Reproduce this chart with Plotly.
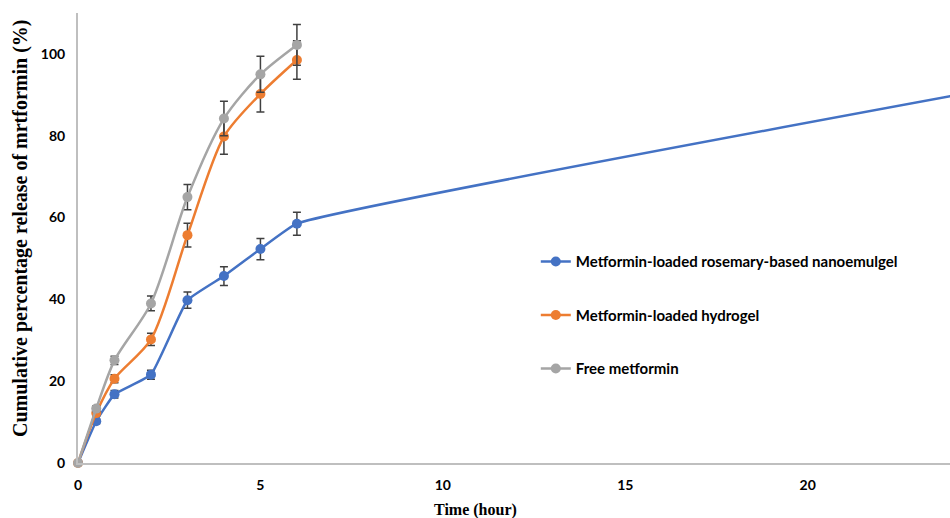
import plotly.graph_objects as go

time_blue = [0, 0.5, 1, 2, 3, 4, 5, 6, 24]
nanoemulgel = [0, 10.2, 16.8, 21.6, 39.8, 45.7, 52.3, 58.5, 89.8]
nanoemulgel_err = [0, 0.6, 0.9, 1.1, 2.0, 2.3, 2.6, 2.8, 0]

time_other = [0, 0.5, 1, 2, 3, 4, 5, 6]
hydrogel = [0, 12.2, 20.6, 30.2, 55.7, 79.8, 90.2, 98.5]
hydrogel_err = [0, 0.7, 1.0, 1.5, 2.9, 4.3, 4.4, 4.7]
free = [0, 13.3, 25.1, 39.0, 65.0, 84.2, 95.0, 102.2]
free_err = [0, 0.7, 1.0, 1.8, 3.1, 4.2, 4.4, 5.0]

names = ["Metformin-loaded rosemary-based nanoemulgel",
         "Metformin-loaded hydrogel",
         "Free metformin"]
colors = ["#4472C4", "#ED7D31", "#A5A5A5"]
smooth = [0.35, 0.8, 0.8]

fig = go.Figure()
series = [(time_blue, nanoemulgel, nanoemulgel_err),
          (time_other, hydrogel, hydrogel_err),
          (time_other, free, free_err)]
for i, (x, y, e) in enumerate(series):
    fig.add_trace(go.Scatter(
        x=x, y=y, name=names[i], mode="lines+markers",
        line=dict(color=colors[i], width=2.5, shape="spline", smoothing=smooth[i]),
        marker=dict(color=colors[i], size=10),
        error_y=dict(type="data", array=e, visible=True, color="#404040",
                     thickness=1.5, width=4),
        legendgroup=f"g{i}", cliponaxis=(i == 0),
    ))

fig.update_layout(
    width=950, height=518,
    margin=dict(l=78, r=0, t=13, b=55),
    paper_bgcolor="white", plot_bgcolor="white",
    font=dict(family="Lato", size=13, color="black"),
    showlegend=True,
    legend=dict(x=0.525, y=0.484, xanchor="left", yanchor="top",
                tracegroupgap=31, bgcolor="rgba(0,0,0,0)",
                font=dict(family="Lato", size=15, color="black", weight="bold")),
    xaxis=dict(range=[0, 23.9], tickvals=[0, 5, 10, 15, 20], showgrid=False,
               zeroline=False, showline=True, linecolor="#BFBFBF", linewidth=2,
               ticks="", tickfont=dict(family="Lato", size=14, weight="bold"),
               ticklabelstandoff=8),
    yaxis=dict(range=[0, 110], tickvals=[0, 20, 40, 60, 80, 100], showgrid=False,
               zeroline=False, showline=True, linecolor="#BFBFBF", linewidth=2,
               ticks="", tickfont=dict(family="Lato", size=14, weight="bold"),
               ticklabelstandoff=8),
    annotations=[
        dict(text="Time (hour)", x=(475 - 78) / 872, xref="paper", y=-0.08, yref="paper",
             showarrow=False, xanchor="center", yanchor="top",
             font=dict(family="Liberation Serif", size=16, weight="bold")),
        dict(text="Cumulative percentage release of mrtformin (%)",
             x=(20 - 78) / 872, xref="paper", y=0.52, yref="paper", textangle=-90,
             showarrow=False, xanchor="center", yanchor="middle",
             font=dict(family="Liberation Serif", size=20, weight="bold")),
    ],
)

fig.write_html("out.html")
